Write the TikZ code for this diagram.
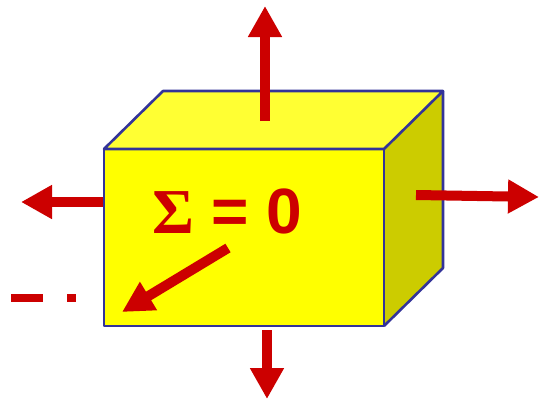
\documentclass[tikz,border=0pt]{standalone}
\usepackage{fontspec}
\setmainfont{Liberation Sans}
\newfontfamily\sigmafont{Liberation Serif}
\usetikzlibrary{arrows.meta}
\definecolor{fred}{HTML}{CC0000}
\definecolor{ffront}{HTML}{FFFF00}
\definecolor{ftop}{HTML}{FFFF33}
\definecolor{fside}{HTML}{CCCC00}
\definecolor{fedge}{HTML}{333399}
\begin{document}
\begin{tikzpicture}[x=1pt,y=-1pt,
  face/.style={draw=fedge,line width=2.6pt,line join=round},
  force/.style={draw=fred,line width=10pt,-{Triangle[length=31pt,width=32pt]}}]
\useasboundingbox (0,0) rectangle (541,400);
% box corners
\coordinate (A) at (104,149);
\coordinate (B) at (384,149);
\coordinate (C) at (384,326);
\coordinate (D) at (104,326);
\coordinate (E) at (163,91);
\coordinate (F) at (443,91);
\coordinate (G) at (443,268);
\fill[ftop] (A) -- (E) -- (F) -- (B) -- cycle;
\fill[fside] (B) -- (F) -- (G) -- (C) -- cycle;
\fill[ffront] (A) -- (B) -- (C) -- (D) -- cycle;
\draw[face] (A) -- (E) -- (F) -- (B) -- cycle;
\draw[face] (F) -- (G) -- (C);
\draw[face] (A) -- (B) -- (C) -- (D) -- cycle;
% arrows
\coordinate (upS) at (265,121);
\coordinate (upT) at (265,6);
\coordinate (rtS) at (416,195);
\coordinate (rtT) at (539,197);
\coordinate (lfS) at (103,202);
\coordinate (lfT) at (21,202);
\coordinate (dnS) at (267,330);
\coordinate (dnT) at (267,399);
\coordinate (dgS) at (228,248);
\coordinate (dgT) at (122,312);
\draw[force] (upS) -- (upT);
\draw[force] (rtS) -- (rtT);
\draw[force] (lfS) -- (lfT);
\draw[force] (dnS) -- (dnT);
\draw[draw=fred,line width=10pt,-{Triangle[length=31pt,width=31pt]}] (dgS) -- (dgT);
% dashes
\fill[fred] (11,294) rectangle (43,302);
\fill[fred] (67,294) rectangle (76,302);
% label
\node[anchor=base west,inner sep=0pt,text=fred,font=\fontsize{64}{64}\selectfont\bfseries] (lbl) at (152,233) {{\sigmafont Σ} = 0};
\end{tikzpicture}
\end{document}
